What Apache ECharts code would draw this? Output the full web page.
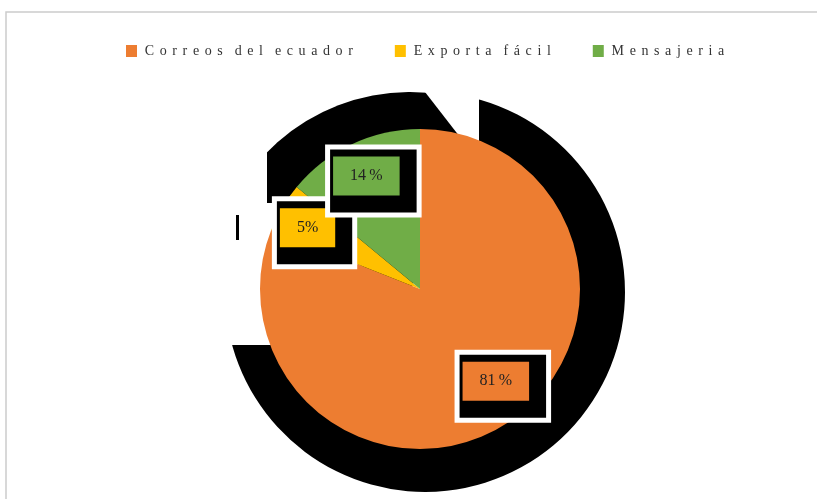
<!DOCTYPE html>
<html>
<head>
<meta charset="utf-8">
<script src="https://cdn.jsdelivr.net/npm/echarts@6/dist/echarts.min.js"></script>
<style>
  html, body { margin: 0; padding: 0; background: #fff; }
  #chart { width: 817px; height: 499px; }
</style>
</head>
<body>
<div id="chart"></div>
<script>
// datos
const categories = ['Correos del ecuador', 'Exporta fácil', 'Mensajeria'];
const shares = [81, 5, 14];
const colors = ['#ED7D31', '#FFC000', '#70AD47'];

const center = [420, 289];
const radius = 160;
const labelRadius = 126;
// small hand tweaks so the boxes sit where the original put them
const labelNudge = [[5, -12], [-4, 3], [0, 1]];
const serif = 'Liberation Serif';

// wide letter spacing like the original
function spaced(s) {
  return '\u2009' + s.split(' ').map(w => w.split('').join('\u2009\u2009')).join('\u2009 \u2009\u2009');
}

const total = shares.reduce((a, b) => a + b, 0);

const pieData = categories.map((name, i) => ({
  name: name,
  value: shares[i],
  itemStyle: { color: colors[i] },
  label: {
    rich: {
      v: {
        backgroundColor: colors[i],
        color: '#222',
        fontFamily: serif,
        fontSize: 16,
        height: 39,
        lineHeight: 39,
        padding: [0, 17],
        align: 'center'
      }
    }
  }
}));

// the black blob behind the pie, as in the picture
function blob(cx, cy, start, sweep) {
  return {
    type: 'pie',
    silent: true,
    z: 1,
    center: [cx, cy],
    radius: 200,
    startAngle: start,
    clockwise: true,
    label: { show: false },
    labelLine: { show: false },
    emphasis: { disabled: true },
    itemStyle: { borderWidth: 0 },
    data: [
      { value: sweep, name: 'blob', itemStyle: { color: '#000' } },
      { value: 360 - sweep, name: 'gap', itemStyle: { color: 'rgba(0,0,0,0)' } }
    ]
  };
}

const white = { fill: '#fff' };

const chart = echarts.init(document.getElementById('chart'));
chart.setOption({
  animation: false,
  backgroundColor: '#fff',
  graphic: [
    { type: 'rect', z: 2, shape: { x: 150, y: 20, width: 117, height: 325 }, style: white },
    { type: 'rect', z: 2, shape: { x: 150, y: 203, width: 150, height: 142 }, style: white },
    {
      type: 'polygon', z: 2,
      shape: { points: [[425, 70], [425, 92], [470, 150], [479, 150], [479, 70]] },
      style: white
    },
    { type: 'rect', z: 2, shape: { x: 236, y: 215, width: 3, height: 25 }, style: { fill: '#000' } },
    {
      type: 'rect', z: 5,
      shape: { x: 6, y: 12, width: 900, height: 600 },
      style: { fill: 'none', stroke: '#cccccc', lineWidth: 1.5 }
    }
  ],
  legend: {
    data: categories,
    left: 121,
    top: 39,
    icon: 'rect',
    itemWidth: 11,
    itemHeight: 12,
    itemGap: 42,
    formatter: spaced,
    textStyle: { fontFamily: serif, fontSize: 14, color: '#333' }
  },
  series: [
    blob(425, 292, 85, 265),
    blob(410, 292, 152, 82),
    {
      type: 'pie',
      z: 3,
      center: center,
      radius: radius,
      startAngle: 90,
      clockwise: true,
      itemStyle: { borderWidth: 0 },
      emphasis: { disabled: true },
      labelLine: { show: false },
      label: {
        show: true,
        position: 'inside',
        formatter: p => '{v|' + p.value + (p.value >= 10 ? '\u2009' : '') + '%}',
        backgroundColor: '#000',
        borderColor: '#fff',
        borderWidth: 5,
        padding: [7, 17, 17, 3]
      },
      labelLayout: function (p) {
        const i = p.dataIndex;
        let before = 0;
        for (let k = 0; k < i; k++) before += shares[k];
        const a = (before + shares[i] / 2) / total * Math.PI * 2;
        return {
          x: center[0] + labelRadius * Math.sin(a) + labelNudge[i][0] + 7,
          y: center[1] - labelRadius * Math.cos(a) + labelNudge[i][1] + 5,
          align: 'center',
          verticalAlign: 'middle'
        };
      },
      data: pieData
    }
  ]
});
</script>
</body>
</html>
